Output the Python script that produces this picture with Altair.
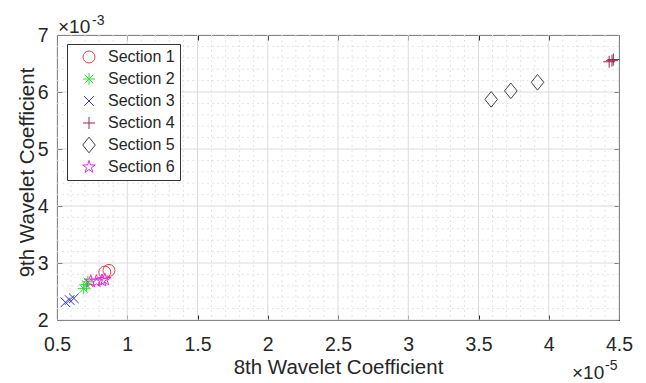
import altair as alt
import pandas as pd

# ---- data (x in units of 1e-5, y in units of 1e-3) ----
sections = ["Section 1", "Section 2", "Section 3", "Section 4", "Section 5", "Section 6"]
s1_x = [0.84, 0.87]
s1_y = [2.84, 2.87]
s2_x = [0.69, 0.71, 0.72]
s2_y = [2.55, 2.62, 2.67]
s3_x = [0.56, 0.59, 0.62]
s3_y = [2.31, 2.35, 2.38]
s4_x = [4.43, 4.45, 4.46]
s4_y = [6.53, 6.55, 6.57]
s5_x = [3.59, 3.73, 3.92]
s5_y = [5.87, 6.02, 6.17]
s6_x = [0.74, 0.78, 0.82, 0.84]
s6_y = [2.68, 2.68, 2.69, 2.71]

x_ticks = [0.5, 1, 1.5, 2, 2.5, 3, 3.5, 4, 4.5]
y_ticks = [2, 3, 4, 5, 6, 7]

rows = []
for name, xs, ys in zip(sections, [s1_x, s2_x, s3_x, s4_x, s5_x, s6_x],
                        [s1_y, s2_y, s3_y, s4_y, s5_y, s6_y]):
    for a, b in zip(xs, ys):
        rows.append({"section": name, "x": a, "y": b})
df = pd.DataFrame(rows)

# grid positions (styling only)
minor_x = [round(0.5 + 0.1 * i, 2) for i in range(41) if i % 5 != 0]
minor_y = [round(2 + 0.2 * i, 2) for i in range(26) if i % 5 != 0]

FONT = "Liberation Sans"
TXT = "#262626"

colors = ["#e8434a", "#2fe02f", "#3434c8", "#a3264f", "#404040", "#e22ae2"]
star = ("M0,-1.1L0.25,-0.34L1.05,-0.34L0.4,0.13L0.65,0.89L0,0.42L-0.65,0.89"
        "L-0.4,0.13L-1.05,-0.34L-0.25,-0.34Z")
shapes = [
    "circle",
    "M-1,0L1,0M0,-1L0,1M-0.72,-0.72L0.72,0.72M-0.72,0.72L0.72,-0.72",
    "M-0.8,-0.8L0.8,0.8M-0.8,0.8L0.8,-0.8",
    "M-1,0L1,0M0,-1L0,1",
    "M0,-1.3L1.05,0L0,1.3L-1.05,0Z",
    star,
]

xscale = alt.Scale(domain=[0.5, 4.5], nice=False, zero=False)
yscale = alt.Scale(domain=[2, 7], nice=False, zero=False)

tick_axis_common = dict(offset=-5, tickSize=5, tickColor=TXT, tickWidth=1,
                        domain=False, grid=False)

# minor grid (carries the inward ticks of top / right axes)
minor_x_layer = alt.Chart(pd.DataFrame({"v": minor_x})).mark_rule(
    color="#e4e4e4", strokeWidth=1, strokeDash=[2, 3]
).encode(
    x=alt.X("v:Q", scale=xscale,
            axis=alt.Axis(orient="top", values=x_ticks, labels=False, title=None,
                          **tick_axis_common))
)
minor_y_layer = alt.Chart(pd.DataFrame({"v": minor_y})).mark_rule(
    color="#e4e4e4", strokeWidth=1, strokeDash=[2, 3]
).encode(
    y=alt.Y("v:Q", scale=yscale,
            axis=alt.Axis(orient="right", values=y_ticks, labels=False, title=None,
                          **tick_axis_common))
)
major_x_layer = alt.Chart(pd.DataFrame({"v": x_ticks})).mark_rule(
    color="#dcdcdc", strokeWidth=1
).encode(x=alt.X("v:Q", scale=xscale, axis=None))
major_y_layer = alt.Chart(pd.DataFrame({"v": y_ticks})).mark_rule(
    color="#dcdcdc", strokeWidth=1
).encode(y=alt.Y("v:Q", scale=yscale, axis=None))

points = alt.Chart(df).mark_point(filled=False, strokeWidth=1, size=144, opacity=1).encode(
    x=alt.X("x:Q", scale=xscale,
            axis=alt.Axis(orient="bottom", values=x_ticks, format="~g",
                          labelFontSize=19.5, labelFont=FONT, labelColor=TXT,
                          labelPadding=15, labelFlush=False,
                          title="8th Wavelet Coefficient", titleFont=FONT,
                          titleFontSize=20.5, titleFontWeight="normal", titleColor=TXT,
                          titleBaseline="alphabetic", titleY=58,
                          **tick_axis_common)),
    y=alt.Y("y:Q", scale=yscale,
            axis=alt.Axis(orient="left", values=y_ticks, format="d",
                          labelFontSize=19.5, labelFont=FONT, labelColor=TXT,
                          labelPadding=9, labelFlush=False,
                          title="9th Wavelet Coefficient", titleFont=FONT,
                          titleFontSize=20.5, titleFontWeight="normal", titleColor=TXT,
                          titleBaseline="alphabetic", titleX=-29, titleY=137,
                          titleAngle=270,
                          **tick_axis_common)),
    color=alt.Color("section:N", scale=alt.Scale(domain=sections, range=colors),
                    legend=alt.Legend(title=None, orient="none", legendX=10, legendY=9,
                                      padding=5, symbolOffset=9, rowPadding=2,
                                      gridAlign="all",
                                      labelFont=FONT, labelFontSize=16, labelColor=TXT,
                                      labelOffset=11, symbolSize=144,
                                      symbolStrokeWidth=1, strokeColor="#333333",
                                      fillColor="white")),
    shape=alt.Shape("section:N", scale=alt.Scale(domain=sections, range=shapes),
                    legend=None),
)

one = pd.DataFrame({"k": [0]})
exp3a = alt.Chart(one).mark_text(text="×10", font=FONT, fontSize=19, color=TXT,
                                 align="left", baseline="alphabetic").encode(
    x=alt.value(1), y=alt.value(-2))
exp3b = alt.Chart(one).mark_text(text="-3", font=FONT, fontSize=14, color=TXT,
                                 align="left", baseline="alphabetic").encode(
    x=alt.value(35), y=alt.value(-10))
exp5a = alt.Chart(one).mark_text(text="×10", font=FONT, fontSize=19, color=TXT,
                                 align="left", baseline="alphabetic").encode(
    x=alt.value(515), y=alt.value(344))
exp5b = alt.Chart(one).mark_text(text="-5", font=FONT, fontSize=14, color=TXT,
                                 align="left", baseline="alphabetic").encode(
    x=alt.value(548), y=alt.value(335))

chart = alt.layer(
    major_x_layer, major_y_layer, minor_x_layer, minor_y_layer, points,
    exp3a, exp3b, exp5a, exp5b
).resolve_axis(x="independent", y="independent").properties(
    width=562, height=285,
    padding={"left": 57, "top": 35, "right": 27, "bottom": 63},
    autosize="none",
    background="white",
).configure_view(stroke="#333333", strokeWidth=1)

chart.save("out.html", embed_options={"renderer": "svg", "actions": False})
